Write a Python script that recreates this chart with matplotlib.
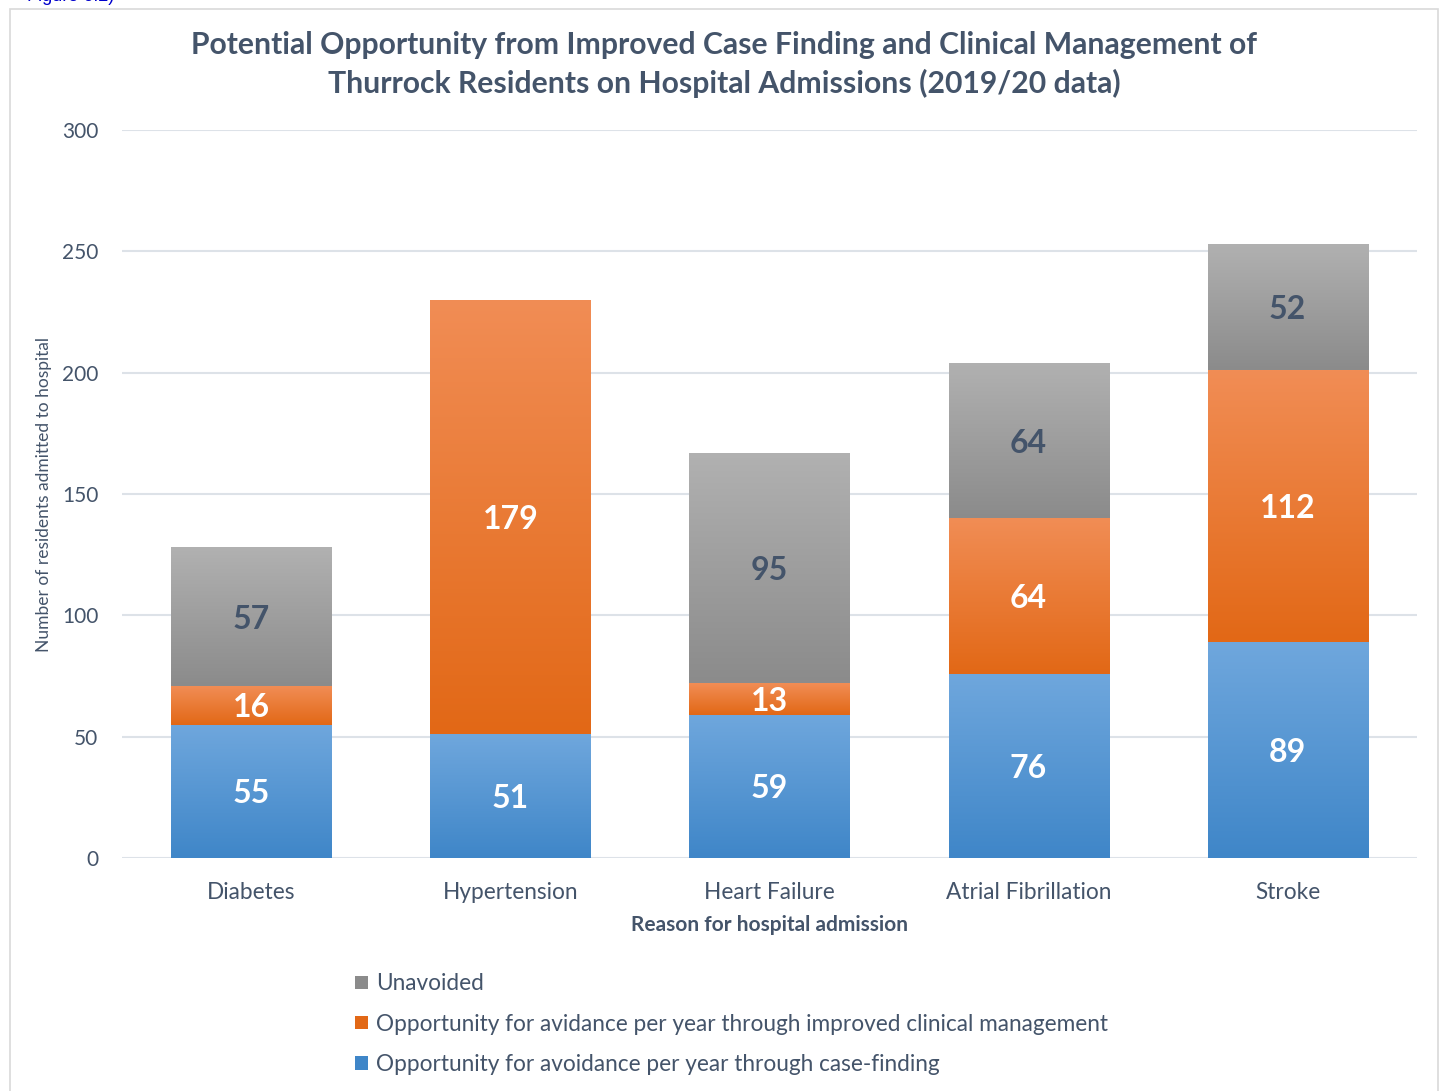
import numpy as np
import matplotlib.pyplot as plt
from matplotlib.colors import LinearSegmentedColormap
from matplotlib.patches import Rectangle

plt.rcParams['font.family'] = ['Lato', 'DejaVu Sans']

reasons = ["Diabetes", "Hypertension", "Heart Failure", "Atrial Fibrillation", "Stroke"]
case_finding = [55, 51, 59, 76, 89]
clinical_mgmt = [16, 179, 13, 64, 112]
unavoided = [57, 0, 95, 64, 52]

series_names = [
    "Opportunity for avoidance per year through case-finding",
    "Opportunity for avidance per year through improved clinical management",
    "Unavoided",
]
# (top colour, bottom colour, label colour)
series_style = [
    ("#6fa7dd", "#3f86c8", "white"),
    ("#f18d55", "#e26816", "white"),
    ("#b1b1b1", "#8b8b8b", "#44546a"),
]
text_col = "#44546a"

fig = plt.figure(figsize=(14.42, 10.91), dpi=100)
ax = fig.add_axes([0.0846, 0.2136, 0.8981, 0.6672])

# chart frame
fig.patches.append(Rectangle((10 / 1442, -0.01), 1428 / 1442, 1 - 9 / 1091 + 0.01,
                             transform=fig.transFigure, fill=False,
                             edgecolor="#d9d9d9", linewidth=1.2))
fig.text(27 / 1442, 1 + 12 / 1091, "Figure 6.2)", color="#0000cc", fontsize=13,
         ha="left", va="top", family=["Liberation Sans", "DejaVu Sans"])

x = np.arange(len(reasons))
width = 0.618
bottom = np.zeros(len(reasons))
grad = np.linspace(0, 1, 256).reshape(-1, 1)

for vals, name, (c_top, c_bot, lab_col) in zip([case_finding, clinical_mgmt, unavoided],
                                               series_names, series_style):
    vals = np.array(vals, dtype=float)
    bars = ax.bar(x, vals, width, bottom=bottom, color=c_bot, label=name,
                  linewidth=0, zorder=2)
    cmap = LinearSegmentedColormap.from_list(name, [c_bot, c_top])
    for b, v in zip(bars, vals):
        if v <= 0:
            continue
        bx, by = b.get_x(), b.get_y()
        im = ax.imshow(grad, cmap=cmap, origin="lower", aspect="auto",
                       extent=[bx, bx + b.get_width(), by, by + b.get_height()],
                       zorder=3)
        im.set_clip_path(b)
        ax.text(bx + b.get_width() / 2, by + v / 2, f"{int(v)}", ha="center",
                va="center_baseline", color=lab_col, fontsize=23, fontweight="bold",
                zorder=4)
    bottom += vals

ax.set_xlim(-0.5, len(reasons) - 0.5)
ax.set_ylim(0, 300)
ax.set_yticks(range(0, 301, 50))
ax.set_xticks(x)
ax.set_xticklabels(reasons)
ax.tick_params(axis="x", length=0, labelsize=16.3, labelcolor=text_col, pad=17)
ax.tick_params(axis="y", length=0, labelsize=15, labelcolor=text_col, pad=17)
ax.grid(axis="y", color="#dde2e8", linewidth=1.5, zorder=0)
ax.set_axisbelow(True)
for s in ax.spines.values():
    s.set_visible(False)

ax.set_xlabel("Reason for hospital admission", fontsize=15, fontweight="bold",
              color=text_col, labelpad=9)
ax.set_ylabel("Number of residents admitted to hospital", fontsize=12.5,
              color=text_col)
ax.yaxis.set_label_coords(-70 / 1295, 0.5)

fig.text(0.502, 1 - 45 / 1091,
         "Potential Opportunity from Improved Case Finding and Clinical Management of",
         ha="center", va="center", fontsize=21.7, fontweight="bold", color=text_col)
fig.text(0.502, 1 - 83 / 1091,
         "Thurrock Residents on Hospital Admissions (2019/20 data)",
         ha="center", va="center", fontsize=21.7, fontweight="bold", color=text_col)

handles, labels = ax.get_legend_handles_labels()
leg = fig.legend(handles[::-1], labels[::-1], loc="upper left",
                 bbox_to_anchor=(335 / 1442, 1 - 953 / 1091), frameon=False,
                 fontsize=16.3, labelcolor=text_col, handlelength=0.55,
                 handleheight=0.55, handletextpad=0.35, labelspacing=0.85)

fig.savefig("out.png", dpi=100)
